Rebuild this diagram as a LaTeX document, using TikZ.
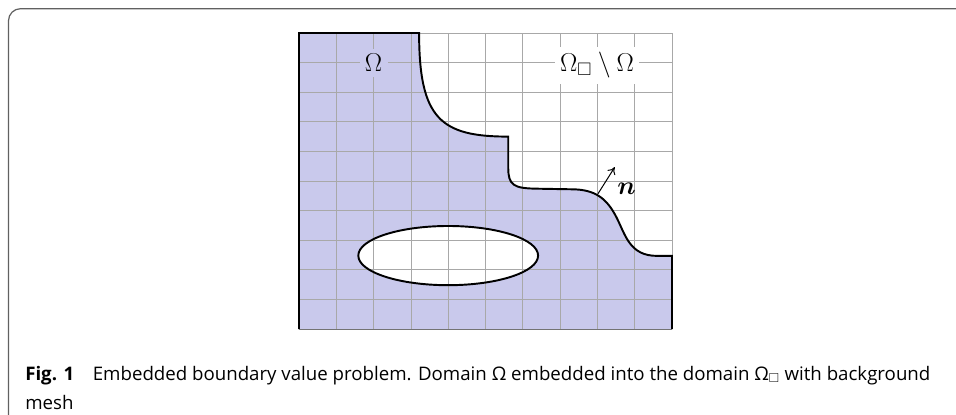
\documentclass[tikz,border=0pt]{standalone}
\usepackage{fix-cm}
\usepackage{amsmath,amssymb}
\usepackage{fontspec}
\newfontfamily\capfont{Open Sans}
\usepackage{tikz}
\usetikzlibrary{arrows.meta}
\usepackage{xcolor}

\definecolor{domainblue}{RGB}{201,201,236}
\definecolor{meshgray}{RGB}{168,168,168}

\begin{document}
\begin{tikzpicture}[
  x=0.75pt, y=-0.75pt,
  frame/.style={draw=black!62, line width=0.9pt, rounded corners=9pt},
  mesh/.style={draw=meshgray, line width=0.55pt},
  bdry/.style={draw=black, line width=1.45pt},
  lbl/.style={font=\fontsize{19.4}{23}\selectfont, inner sep=4pt, anchor=base},
  arrow/.style={-{To[length=1.8mm,width=2.4mm]}, line width=0.75pt},
  caption/.style={font=\capfont\fontsize{14}{21.7}\selectfont, align=left, anchor=base west, inner sep=0pt}
]
\useasboundingbox (0,0) rectangle (956,414);
\draw[frame] (8.5,440) |- (990,8.7);

\begin{scope}[shift={(299,329)}, xscale=37.3, yscale=-29.6]
% domain Omega with the hole cut out
\fill[domainblue, even odd rule] (0,0) -- (0,10) -- (3.22,10)
  .. controls (3.22,7.1) and (3.8,6.5) .. (5.61,6.5) -- (5.61,5.45)
  .. controls (5.61,4.85) and (5.75,4.75) .. (6.4,4.74) -- (7.3,4.72)
  .. controls (7.95,4.72) and (8.25,4.4) .. (8.5,3.8)
  .. controls (8.75,3.2) and (8.85,2.47) .. (9.6,2.47) -- (10,2.47) -- (10,0) -- cycle
  (4,2.48) ellipse [x radius=2.41, y radius=1];

% background mesh
\foreach \i in {0,...,10} {
  \draw[mesh] (\i,0) -- (\i,10);
  \draw[mesh] (0,\i) -- (10,\i);
}

\node[lbl, fill=domainblue] (omega) at (2,8.69) {$\Omega$};
\node[lbl, fill=white] (outside) at (7.99,8.69) {$\Omega_\square \setminus \Omega$};

% boundary
\draw[bdry] (0,0) -- (0,10) -- (3.22,10)
  .. controls (3.22,7.1) and (3.8,6.5) .. (5.61,6.5) -- (5.61,5.45)
  .. controls (5.61,4.85) and (5.75,4.75) .. (6.4,4.74) -- (7.3,4.72)
  .. controls (7.95,4.72) and (8.25,4.4) .. (8.5,3.8)
  .. controls (8.75,3.2) and (8.85,2.47) .. (9.6,2.47) -- (10,2.47) -- (10,0);
\draw[bdry] (4,2.48) ellipse [x radius=2.41, y radius=1];
\draw[draw=black!55, line width=0.6pt] (0,0) -- (10,0);

\coordinate (nbase) at (8.02,4.58);
\coordinate (ntip) at (8.47,5.48);
\draw[arrow] (nbase) -- (ntip);
\node[lbl, inner sep=0pt] (normal) at (8.78,4.56) {$\boldsymbol{n}$};
\end{scope}

\node[caption] (cap) at (25,409) {\textbf{Fig. 1}\quad Embedded boundary value problem. Domain Ω embedded into the domain Ω$_\square$ with background\\mesh};
\end{tikzpicture}
\end{document}
